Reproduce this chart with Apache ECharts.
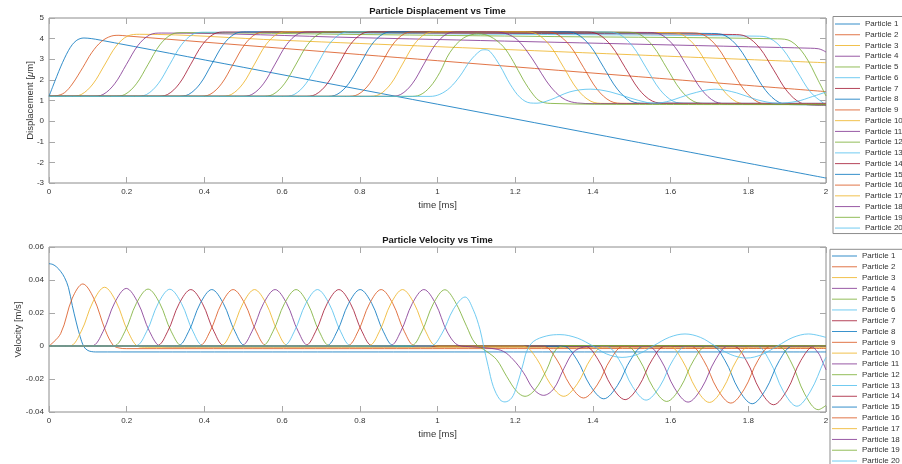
<!DOCTYPE html>
<html><head><meta charset="utf-8">
<script src="https://cdn.jsdelivr.net/npm/echarts@6/dist/echarts.min.js"></script>
<style>html,body{margin:0;padding:0;background:#fff}#c{width:902px;height:464px}</style>
</head><body><div id="c"></div>
<script>
const particleNames = ['Particle 1','Particle 2','Particle 3','Particle 4','Particle 5','Particle 6','Particle 7','Particle 8','Particle 9','Particle 10','Particle 11','Particle 12','Particle 13','Particle 14','Particle 15','Particle 16','Particle 17','Particle 18','Particle 19','Particle 20'];
const timeTicks = [0,0.2,0.4,0.6,0.8,1,1.2,1.4,1.6,1.8,2];
const dispTicks = [-3,-2,-1,0,1,2,3,4,5];
const velTicks = [-0.04,-0.02,0,0.02,0.04,0.06];

// Displacement [um] vs time [ms], [t, value] pairs
const disp1 = [[0,1.2],[0.01,1.69],[0.02,2.17],[0.03,2.63],[0.04,3.05],[0.05,3.42],[0.06,3.71],[0.07,3.9],[0.08,4.0],[0.09,4.03],[0.1,4.02],[0.12,3.97],[0.5,2.61],[1,0.82],[1.5,-0.97],[2,-2.76]];
const disp2 = [[0,1.2],[0.02,1.23],[0.04,1.38],[0.06,1.8],[0.087,2.6],[0.11,3.32],[0.135,3.86],[0.16,4.12],[0.18,4.16],[0.2,4.13],[0.6,3.53],[1,2.93],[1.5,2.18],[2,1.43]];
const disp3 = [[0,1.2],[0.053,1.2],[0.083,1.29],[0.113,1.8],[0.143,2.72],[0.173,3.64],[0.203,4.13],[0.233,4.21],[0.6,3.92],[1,3.61],[1.5,3.22],[2,2.83]];
const disp4 = [[0,1.2],[0.109,1.2],[0.139,1.29],[0.169,1.81],[0.199,2.74],[0.229,3.67],[0.259,4.18],[0.289,4.27],[0.8,4.045],[1.3,3.825],[1.8,3.605],[1.96,3.535],[1.98,3.51],[1.99,3.45],[2,3.35]];
const disp5 = [[0,1.2],[0.165,1.2],[0.195,1.29],[0.225,1.81],[0.255,2.75],[0.285,3.69],[0.315,4.2],[0.345,4.29],[0.8,4.2],[1.3,4.1],[1.875,3.99],[1.91,3.87],[1.945,3.2],[1.98,1.97],[2,1.22]];
const disp6 = [[0,1.2],[0.221,1.2],[0.251,1.29],[0.281,1.81],[0.311,2.755],[0.341,3.7],[0.371,4.22],[0.401,4.31],[1.1,4.22],[1.82,4.12],[1.855,4.02],[1.89,3.46],[1.925,2.435],[1.96,1.41],[1.995,0.85],[2,0.82]];
const disp7 = [[0,1.2],[0.275,1.2],[0.305,1.29],[0.335,1.81],[0.365,2.76],[0.395,3.71],[0.425,4.23],[0.455,4.32],[1.1,4.26],[1.76,4.2],[1.795,4.1],[1.83,3.53],[1.865,2.49],[1.9,1.45],[1.935,0.88],[1.97,0.78],[2,0.77]];
const disp8 = [[0,1.2],[0.329,1.2],[0.359,1.29],[0.389,1.81],[0.419,2.765],[0.449,3.72],[0.479,4.24],[0.509,4.33],[1.1,4.29],[1.705,4.25],[1.74,4.15],[1.775,3.57],[1.81,2.525],[1.845,1.48],[1.88,0.9],[1.915,0.8],[2,0.79]];
const disp9 = [[0,1.2],[0.384,1.2],[0.414,1.29],[0.444,1.81],[0.474,2.765],[0.504,3.72],[0.534,4.24],[0.564,4.33],[1.1,4.31],[1.65,4.28],[1.685,4.18],[1.72,3.6],[1.755,2.55],[1.79,1.5],[1.825,0.92],[1.86,0.82],[2,0.81]];
const disp10 = [[0,1.2],[0.439,1.2],[0.469,1.29],[0.499,1.81],[0.529,2.765],[0.559,3.72],[0.589,4.24],[0.619,4.33],[1.1,4.31],[1.595,4.29],[1.63,4.19],[1.665,3.61],[1.7,2.56],[1.735,1.51],[1.77,0.93],[1.805,0.83],[2,0.82]];
const disp11 = [[0,1.2],[0.492,1.2],[0.522,1.29],[0.552,1.81],[0.582,2.765],[0.612,3.72],[0.642,4.24],[0.672,4.33],[1.1,4.32],[1.54,4.3],[1.575,4.2],[1.61,3.62],[1.645,2.57],[1.68,1.52],[1.715,0.94],[1.75,0.84],[2,0.83]];
const disp12 = [[0,1.2],[0.546,1.2],[0.576,1.29],[0.606,1.81],[0.636,2.765],[0.666,3.72],[0.696,4.24],[0.726,4.33],[1.1,4.32],[1.485,4.31],[1.52,4.21],[1.555,3.63],[1.59,2.58],[1.625,1.53],[1.66,0.95],[1.695,0.85],[2,0.84]];
const disp13 = [[0,1.2],[0.601,1.2],[0.631,1.29],[0.661,1.81],[0.691,2.765],[0.721,3.72],[0.751,4.24],[0.781,4.33],[1.432,4.32],[1.467,4.22],[1.502,3.64],[1.537,2.59],[1.572,1.54],[1.607,0.96],[1.642,0.86],[2,0.85]];
const disp14 = [[0,1.2],[0.656,1.2],[0.686,1.29],[0.716,1.81],[0.746,2.765],[0.776,3.72],[0.806,4.24],[0.836,4.33],[1.378,4.32],[1.413,4.22],[1.448,3.64],[1.483,2.6],[1.518,1.55],[1.553,0.97],[1.588,0.87],[2,0.86]];
const disp15 = [[0,1.2],[0.711,1.2],[0.741,1.29],[0.771,1.81],[0.801,2.765],[0.831,3.72],[0.861,4.24],[0.891,4.33],[1.323,4.33],[1.358,4.23],[1.393,3.65],[1.428,2.6],[1.463,1.55],[1.498,0.97],[1.533,0.87],[2,0.86]];
const disp16 = [[0,1.2],[0.765,1.2],[0.795,1.29],[0.825,1.81],[0.855,2.765],[0.885,3.72],[0.915,4.24],[0.945,4.33],[1.271,4.33],[1.306,4.23],[1.341,3.65],[1.376,2.6],[1.411,1.54],[1.446,0.96],[1.481,0.86],[2,0.85]];
const disp17 = [[0,1.2],[0.82,1.2],[0.85,1.29],[0.88,1.81],[0.91,2.765],[0.94,3.72],[0.97,4.24],[1.0,4.33],[1.22,4.33],[1.255,4.23],[1.29,3.65],[1.325,2.6],[1.36,1.54],[1.395,0.96],[1.43,0.86],[2,0.85]];
const disp18 = [[0,1.2],[0.875,1.2],[0.905,1.29],[0.935,1.81],[0.965,2.765],[0.995,3.72],[1.025,4.24],[1.055,4.33],[1.15,4.32],[1.18,4.22],[1.205,3.95],[1.23,3.4],[1.255,2.7],[1.28,1.95],[1.305,1.38],[1.33,1.03],[1.36,0.88],[1.4,0.85],[2,0.84]];
const disp19 = [[0,1.2],[0.929,1.2],[0.955,1.27],[0.981,1.66],[1.006,2.36],[1.032,3.33],[1.067,4.03],[1.105,4.23],[1.135,4.11],[1.169,3.62],[1.195,2.89],[1.221,2.0],[1.247,1.27],[1.264,0.97],[1.29,0.86],[1.52,0.81],[2,0.8]];
const disp20 = [[0,1.2],[0.981,1.2],[1.006,1.3],[1.032,1.62],[1.058,2.19],[1.084,2.92],[1.11,3.41],[1.122,3.46],[1.135,3.38],[1.161,2.68],[1.187,1.79],[1.213,1.14],[1.239,0.88],[1.256,0.87],[1.29,1.03],[1.341,1.42],[1.393,1.55],[1.444,1.42],[1.496,1.12],[1.54,0.9],[1.56,0.87],[1.6,0.99],[1.65,1.31],[1.715,1.55],[1.77,1.37],[1.822,1.04],[1.875,0.87],[1.925,0.96],[1.965,1.19],[2,1.41]];

// Velocity [m/s] vs time [ms]
const vel1 = [[0,0.0499],[0.01,0.0494],[0.02,0.0478],[0.03,0.0452],[0.04,0.0415],[0.05,0.0355],[0.06,0.0245],[0.07,0.0145],[0.08,0.0058],[0.09,-0.0005],[0.1,-0.0027],[0.11,-0.0034],[0.12,-0.0036],[2,-0.0036]];
const vel2 = [[0,0],[0.03,0.0075],[0.06,0.029],[0.087,0.0376],[0.115,0.029],[0.145,0.0095],[0.165,0.0005],[0.18,-0.0012],[0.2,-0.0016],[0.5,-0.0016],[2,-0.0015]];
const vel3 = [[0,0],[0.053,0],[0.083,0.0089],[0.113,0.0267],[0.143,0.0356],[0.173,0.0267],[0.203,0.0089],[0.233,-0.0006],[0.26,-0.0008],[2,-0.0008]];
const vel4 = [[0,0],[0.109,0],[0.139,0.0087],[0.169,0.0262],[0.199,0.0349],[0.229,0.0262],[0.259,0.0087],[0.289,-0.0003],[0.32,-0.0004],[1.96,-0.0004],[1.98,-0.0042],[1.99,-0.0089],[2,-0.0144]];
const vel5 = [[0,0],[0.165,0],[0.195,0.0086],[0.225,0.0259],[0.255,0.0345],[0.285,0.0259],[0.315,0.0086],[0.345,-0.0002],[0.4,-0.0002],[1.875,-0.0002],[1.91,-0.0097],[1.945,-0.029],[1.98,-0.0386],[2,-0.036]];
const vel6 = [[0,0],[0.221,0],[0.251,0.0086],[0.281,0.0258],[0.311,0.0344],[0.341,0.0258],[0.371,0.0086],[0.401,-0.0001],[1.82,-0.0001],[1.855,-0.0091],[1.89,-0.0274],[1.925,-0.0365],[1.96,-0.0274],[1.995,-0.0091],[2,-0.0069]];
const vel7 = [[0,0],[0.275,0],[0.305,0.0086],[0.335,0.0257],[0.365,0.0342],[0.395,0.0257],[0.425,0.0086],[0.455,-0.0001],[1.76,-0.0001],[1.795,-0.0089],[1.83,-0.0267],[1.865,-0.0356],[1.9,-0.0267],[1.935,-0.0089],[1.97,0],[2,0.0002]];
const vel8 = [[0,0],[0.329,0],[0.359,0.0086],[0.389,0.0257],[0.419,0.0342],[0.449,0.0257],[0.479,0.0086],[0.509,-0.0001],[1.705,-0.0001],[1.74,-0.0088],[1.775,-0.0263],[1.81,-0.035],[1.845,-0.0263],[1.88,-0.0088],[1.915,0],[2,0.0002]];
const vel9 = [[0,0],[0.384,0],[0.414,0.0086],[0.444,0.0257],[0.474,0.0342],[0.504,0.0257],[0.534,0.0086],[0.564,-0.0001],[1.65,-0.0001],[1.685,-0.0087],[1.72,-0.026],[1.755,-0.0346],[1.79,-0.026],[1.825,-0.0087],[1.86,0],[2,0.0002]];
const vel10 = [[0,0],[0.439,0],[0.469,0.0086],[0.499,0.0257],[0.529,0.0342],[0.559,0.0257],[0.589,0.0086],[0.619,-0.0001],[1.595,-0.0001],[1.63,-0.0086],[1.665,-0.0257],[1.7,-0.0342],[1.735,-0.0257],[1.77,-0.0086],[1.805,0],[2,0.0002]];
const vel11 = [[0,0],[0.492,0],[0.522,0.0086],[0.552,0.0257],[0.582,0.0342],[0.612,0.0257],[0.642,0.0086],[0.672,-0.0001],[1.54,-0.0001],[1.575,-0.0085],[1.61,-0.0255],[1.645,-0.034],[1.68,-0.0255],[1.715,-0.0085],[1.75,0],[2,0.0002]];
const vel12 = [[0,0],[0.546,0],[0.576,0.0086],[0.606,0.0257],[0.636,0.0342],[0.666,0.0257],[0.696,0.0086],[0.726,-0.0001],[1.485,-0.0001],[1.52,-0.0084],[1.555,-0.0252],[1.59,-0.0336],[1.625,-0.0252],[1.66,-0.0084],[1.695,0],[2,0.0002]];
const vel13 = [[0,0],[0.601,0],[0.631,0.0086],[0.661,0.0257],[0.691,0.0342],[0.721,0.0257],[0.751,0.0086],[0.781,-0.0001],[1.432,-0.0001],[1.467,-0.0082],[1.502,-0.0246],[1.537,-0.0328],[1.572,-0.0246],[1.607,-0.0082],[1.642,0],[2,0.0002]];
const vel14 = [[0,0],[0.656,0],[0.686,0.0086],[0.716,0.0257],[0.746,0.0342],[0.776,0.0257],[0.806,0.0086],[0.836,-0.0001],[1.378,-0.0001],[1.413,-0.0081],[1.448,-0.0244],[1.483,-0.0325],[1.518,-0.0244],[1.553,-0.0081],[1.588,0],[2,0.0002]];
const vel15 = [[0,0],[0.711,0],[0.741,0.0086],[0.771,0.0257],[0.801,0.0342],[0.831,0.0257],[0.861,0.0086],[0.891,-0.0001],[1.323,-0.0001],[1.358,-0.008],[1.393,-0.024],[1.428,-0.032],[1.463,-0.024],[1.498,-0.008],[1.533,0],[2,0.0002]];
const vel16 = [[0,0],[0.765,0],[0.795,0.0086],[0.825,0.0257],[0.855,0.0342],[0.885,0.0257],[0.915,0.0086],[0.945,-0.0001],[1.271,-0.0001],[1.306,-0.0079],[1.341,-0.0236],[1.376,-0.0315],[1.411,-0.0236],[1.446,-0.0079],[1.481,0],[2,0.0002]];
const vel17 = [[0,0],[0.82,0],[0.85,0.0086],[0.88,0.0257],[0.91,0.0342],[0.94,0.0257],[0.97,0.0086],[1.0,-0.0001],[1.22,-0.0001],[1.255,-0.0076],[1.29,-0.0229],[1.325,-0.0305],[1.36,-0.0229],[1.395,-0.0076],[1.43,0],[2,0.0002]];
const vel18 = [[0,0],[0.875,0],[0.905,0.0086],[0.935,0.0257],[0.965,0.0342],[0.995,0.0257],[1.025,0.0086],[1.055,0.0003],[1.09,-0.0005],[1.14,-0.0015],[1.17,-0.0033],[1.195,-0.0083],[1.221,-0.016],[1.247,-0.0261],[1.273,-0.0299],[1.299,-0.026],[1.325,-0.0138],[1.35,-0.0037],[1.376,-0.0007],[1.42,0],[2,0.0002]];
const vel19 = [[0,0],[0.929,0],[0.959,0.0085],[0.989,0.0255],[1.019,0.0341],[1.045,0.027],[1.075,0.0119],[1.0965,0.0018],[1.1266,-0.0033],[1.1523,-0.0083],[1.178,-0.0184],[1.2038,-0.0275],[1.2252,-0.0305],[1.251,-0.0265],[1.281,-0.0144],[1.307,-0.0015],[1.34,0.0003],[2,0.0002]];
const vel20 = [[0,0],[0.981,0],[1.011,0.0074],[1.041,0.0223],[1.071,0.0297],[1.092,0.022],[1.1095,0.0099],[1.1178,0.0008],[1.1306,-0.0124],[1.1435,-0.0245],[1.1607,-0.0325],[1.1738,-0.0339],[1.1909,-0.0315],[1.2038,-0.0245],[1.221,-0.0104],[1.2295,-0.0033],[1.2466,0.0027],[1.281,0.0061],[1.3153,0.0069],[1.36,0.0048],[1.4,0],[1.435,-0.0048],[1.475,-0.0069],[1.515,-0.0051],[1.555,0],[1.597,0.0053],[1.637,0.0073],[1.677,0.0052],[1.715,0],[1.755,-0.0052],[1.795,-0.0073],[1.835,-0.0052],[1.875,0],[1.915,0.0052],[1.955,0.0073],[2,0.0052]];

const dispData = [disp1,disp2,disp3,disp4,disp5,disp6,disp7,disp8,disp9,disp10,disp11,disp12,disp13,disp14,disp15,disp16,disp17,disp18,disp19,disp20];
const velData = [vel1,vel2,vel3,vel4,vel5,vel6,vel7,vel8,vel9,vel10,vel11,vel12,vel13,vel14,vel15,vel16,vel17,vel18,vel19,vel20];
const lineColors = ['#0072BD','#D95319','#EDB120','#7E2F8E','#77AC30','#4DBEEE','#A2142F'];

const FONT = 'Liberation Sans, Arial, Helvetica, sans-serif';
const TXT = '#333333';
const BOX = '#8c8c8c';
const TICK = '#a8a8a8';

function xAx(grid, bottom, gap){
  return {
    gridIndex: grid, type: 'value', position: bottom ? 'bottom' : 'top',
    min: timeTicks[0], max: timeTicks[timeTicks.length-1], interval: timeTicks[1]-timeTicks[0],
    name: bottom ? 'time [ms]' : '', nameLocation: 'middle', nameGap: gap || 0, nameMoveOverlap: false,
    nameTextStyle: {fontFamily: FONT, fontSize: 9.5, color: TXT},
    axisLine: {show: false, onZero: false},
    axisTick: {show: true, inside: true, length: 6, lineStyle: {color: TICK, width: 1}},
    axisLabel: {show: bottom, margin: 5, fontFamily: FONT, fontSize: 8, color: TXT, hideOverlap: false},
    splitLine: {show: false}
  };
}
function yAx(grid, left, ticks, name, gap){
  return {
    gridIndex: grid, type: 'value', position: left ? 'left' : 'right',
    min: ticks[0], max: ticks[ticks.length-1], interval: Math.round((ticks[1]-ticks[0])*1e6)/1e6,
    name: left ? name : '', nameLocation: 'middle', nameGap: gap, nameMoveOverlap: false,
    nameTextStyle: {fontFamily: FONT, fontSize: 9.5, color: TXT,
      rich: {n: {fontFamily: FONT, fontSize: 9.5, color: TXT}, i: {fontFamily: FONT, fontSize: 9.5, color: TXT, fontStyle: 'italic'}}},
    axisLine: {show: false, onZero: false},
    axisTick: {show: true, inside: true, length: 6, lineStyle: {color: TICK, width: 1}},
    axisLabel: {show: left, margin: 5, fontFamily: FONT, fontSize: 8, color: TXT},
    splitLine: {show: false}
  };
}

const series = [];
dispData.forEach((d, i) => series.push({
  name: particleNames[i], type: 'line', xAxisIndex: 0, yAxisIndex: 0, data: d,
  symbol: 'none', smooth: 0.35, lineStyle: {width: 1, color: lineColors[i % 7], opacity: 0.8},
  itemStyle: {color: lineColors[i % 7]}, animation: false, silent: true
}));
velData.forEach((d, i) => series.push({
  name: particleNames[i], type: 'line', xAxisIndex: 2, yAxisIndex: 2, data: d,
  symbol: 'none', smooth: 0.35, lineStyle: {width: 1, color: lineColors[i % 7], opacity: 0.8},
  itemStyle: {color: lineColors[i % 7]}, animation: false, silent: true
}));

const legendBase = {
  data: particleNames, orient: 'vertical', icon: 'rect', itemWidth: 25, itemHeight: 1,
  borderColor: BOX, borderWidth: 1, backgroundColor: '#ffffff', selectedMode: false,
  itemStyle: {opacity: 0.8}, height: 300,
  textStyle: {fontFamily: FONT, fontSize: 8, lineHeight: 10, color: TXT}
};

const chart = echarts.init(document.getElementById('c'), null, {renderer: 'canvas'});
chart.setOption({
  animation: false,
  backgroundColor: '#ffffff',
  title: [
    {text: 'Particle Displacement vs Time', left: 437.5, top: 6, textAlign: 'center', padding: 0,
     textStyle: {fontFamily: FONT, fontSize: 9.5, fontWeight: 'bold', color: '#1a1a1a'}},
    {text: 'Particle Velocity vs Time', left: 437.5, top: 235.5, textAlign: 'center', padding: 0,
     textStyle: {fontFamily: FONT, fontSize: 9.5, fontWeight: 'bold', color: '#1a1a1a'}}
  ],
  grid: [
    {left: 49, top: 18, width: 777, height: 165, show: true, borderColor: BOX, borderWidth: 1, backgroundColor: 'transparent', containLabel: false, outerBoundsMode: 'none'},
    {left: 49, top: 247, width: 777, height: 165, show: true, borderColor: BOX, borderWidth: 1, backgroundColor: 'transparent', containLabel: false, outerBoundsMode: 'none'}
  ],
  xAxis: [xAx(0, true, 17), xAx(0, false), xAx(1, true, 17.5), xAx(1, false)],
  yAxis: [
    yAx(0, true, dispTicks, '{n|Displacement [}{i|\u03bc}{n|m]}', 14),
    yAx(0, false, dispTicks, '', 0),
    yAx(1, true, velTicks, 'Velocity [m/s]', 25.5),
    yAx(1, false, velTicks, '', 0)
  ],
  legend: [
    Object.assign({}, legendBase, {left: 833, top: 16.5, padding: [2.5, 4, 0.5, 2], itemGap: 0.74}),
    Object.assign({}, legendBase, {left: 830, top: 249.3, padding: [1.7, 4, 2, 2], itemGap: 0.79})
  ],
  series: series
});
</script></body></html>
